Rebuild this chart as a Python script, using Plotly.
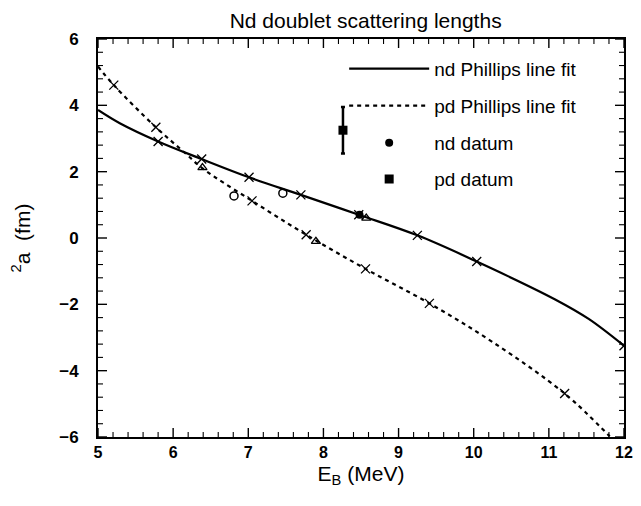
import plotly.graph_objects as go

# ---- data ----
nd_fit_E = [5.0, 5.29, 5.8, 6.38, 7.01, 7.70, 8.47, 9.25, 10.04, 11.09, 11.53, 12.0]
nd_fit_a = [3.86, 3.46, 2.91, 2.38, 1.83, 1.30, 0.70, 0.08, -0.71, -1.86, -2.44, -3.25]

pd_fit_E = [5.0, 5.21, 5.77, 6.18, 6.39, 7.05, 7.77, 8.56, 9.41, 10.26, 11.21, 11.81]
pd_fit_a = [5.17, 4.61, 3.34, 2.52, 2.10, 1.12, 0.10, -0.93, -1.97, -3.15, -4.69, -5.98]

calc_E = [5.21, 5.77, 5.80, 6.38, 7.01, 7.05, 7.70, 7.77, 8.47, 8.56, 9.25, 9.41, 10.04, 11.21, 12.0]
calc_a = [4.61, 3.34, 2.91, 2.38, 1.83, 1.12, 1.30, 0.10, 0.70, -0.93, 0.08, -1.97, -0.71, -4.69, -3.25]

tri_E = [6.39, 7.90, 8.57]
tri_a = [2.12, -0.10, 0.60]

open_E = [6.81, 7.46]
open_a = [1.27, 1.35]

nd_datum_E = [8.48]
nd_datum_a = [0.70]
nd_datum_err = [0.06]

pd_datum_E = [8.26]
pd_datum_a = [3.25]
pd_datum_err = [0.70]

x_range = [5, 12]
y_range = [-6, 6]
x_major, x_minor = 1.0, 0.2
y_major, y_minor = 2.0, 0.4

FONT = "Liberation Sans, Arial, sans-serif"
NB = "\u00a0"


def steps(lo, hi, step):
    n = int(round((hi - lo) / step))
    return [round(lo + i * step, 6) for i in range(n + 1)]


def is_major(v, lo, step):
    q = (v - lo) / step
    return abs(q - round(q)) < 1e-6


fig = go.Figure()

fig.add_trace(go.Scatter(x=nd_fit_E, y=nd_fit_a, mode="lines", name="nd Phillips line fit",
                         legend="legend",
                         line=dict(color="black", width=2.2, shape="spline")))
fig.add_trace(go.Scatter(x=pd_fit_E, y=pd_fit_a, mode="lines", name="pd Phillips line fit",
                         legend="legend2",
                         line=dict(color="black", width=2.2, dash="4px,4px", shape="spline")))
fig.add_trace(go.Scatter(x=nd_datum_E, y=nd_datum_a, mode="markers", name="nd datum",
                         legend="legend3",
                         marker=dict(symbol="circle", size=8, color="black"),
                         error_y=dict(type="data", array=nd_datum_err, color="black", thickness=2, width=2)))
fig.add_trace(go.Scatter(x=pd_datum_E, y=pd_datum_a, mode="markers", name="pd datum",
                         legend="legend4",
                         marker=dict(symbol="square", size=9, color="black"),
                         error_y=dict(type="data", array=pd_datum_err, color="black", thickness=2.5, width=2)))
fig.add_trace(go.Scatter(x=calc_E, y=calc_a, mode="markers", showlegend=False,
                         marker=dict(symbol="x-thin", size=9, line=dict(color="black", width=1.3))))
fig.add_trace(go.Scatter(x=tri_E, y=tri_a, mode="markers", showlegend=False,
                         marker=dict(symbol="triangle-up-open", size=8, color="black", line=dict(width=1.3))))
fig.add_trace(go.Scatter(x=open_E, y=open_a, mode="markers", showlegend=False,
                         marker=dict(symbol="circle-open", size=8, color="black", line=dict(width=1.5))))

# inward tick marks on all four sides (drawn as pixel-sized shapes)
shapes = []
for v in steps(x_range[0], x_range[1], x_minor):
    maj = is_major(v, x_range[0], x_major)
    L = 9 if maj else 5
    for anchor, sgn in ((0, 1), (1, -1)):
        shapes.append(dict(type="line", layer="above", xref="x", yref="paper",
                           ysizemode="pixel", yanchor=anchor, x0=v, x1=v, y0=0, y1=sgn * L,
                           line=dict(color="black", width=1.4 if maj else 1.1)))
for v in steps(y_range[0], y_range[1], y_minor):
    maj = is_major(v, y_range[0], y_major)
    L = 9 if maj else 5
    for anchor, sgn in ((0, 1), (1, -1)):
        shapes.append(dict(type="line", layer="above", yref="y", xref="paper",
                           xsizemode="pixel", xanchor=anchor, y0=v, y1=v, x0=0, x1=sgn * L,
                           line=dict(color="black", width=1.4 if maj else 1.1)))

axis_common = dict(showgrid=False, zeroline=False, showline=True, linecolor="black",
                   linewidth=1.5, mirror=True, ticks="")

leg_common = dict(x=0.468, xanchor="left", yanchor="middle", bgcolor="rgba(0,0,0,0)",
                  font=dict(family=FONT, size=19, color="black"), itemwidth=80)
leg_rows = [0.925, 0.832, 0.739, 0.648]

fig.update_layout(
    width=633, height=498,
    paper_bgcolor="white", plot_bgcolor="white",
    margin=dict(l=90, r=8, t=31, b=69),
    title=dict(text="Nd doublet scattering lengths", x=0.565, xanchor="center", y=0.975, yanchor="middle",
               font=dict(family=FONT, size=21, color="black")),
    xaxis=dict(range=x_range, tickmode="linear", tick0=x_range[0], dtick=x_major,
               tickfont=dict(family=FONT, size=16, color="black", weight="bold"),
               title=dict(text="E<sub>B</sub> (MeV)", standoff=6,
                          font=dict(family=FONT, size=21, color="black")),
               **axis_common),
    yaxis=dict(range=y_range, tickmode="linear", tick0=y_range[0], dtick=y_major, ticksuffix=NB * 3,
               tickfont=dict(family=FONT, size=17, color="black", weight="bold"),
               title=dict(text="<sup>2</sup>a  (fm)", standoff=28,
                          font=dict(family=FONT, size=21, color="black")),
               **axis_common),
    legend=dict(y=leg_rows[0], **leg_common),
    legend2=dict(y=leg_rows[1], **leg_common),
    legend3=dict(y=leg_rows[2], **leg_common),
    legend4=dict(y=leg_rows[3], **leg_common),
    shapes=shapes,
    showlegend=True,
)

fig.write_html("out.html")
